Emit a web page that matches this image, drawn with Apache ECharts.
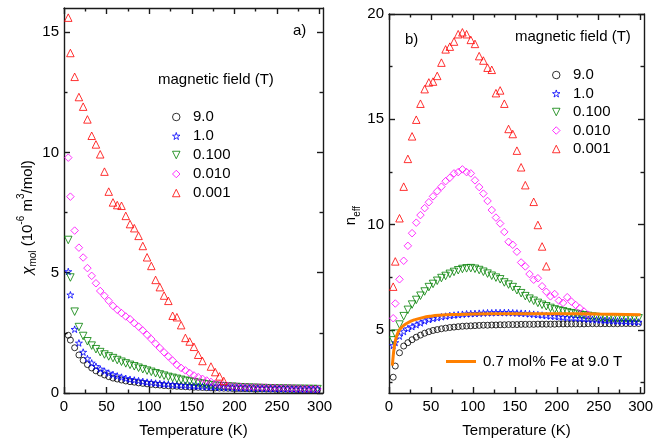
<!DOCTYPE html>
<html><head><meta charset="utf-8">
<script src="https://cdn.jsdelivr.net/npm/echarts@6/dist/echarts.min.js"></script>
<style>html,body{margin:0;padding:0;background:#fff}#c{width:662px;height:443px}</style>
</head><body><div id="c"></div>
<script>
// ---------- data ----------
const T = [5, 7.5, 12.5, 17.5, 22.5, 27.5, 32.5, 37.5, 42.5, 47.5,
  52.5, 57.5, 62.5, 67.5, 72.5, 77.5, 82.5, 87.5, 92.5, 97.5,
  102.5, 107.5, 112.5, 117.5, 122.5, 127.5, 132.5, 137.5, 142.5, 147.5,
  152.5, 157.5, 162.5, 167.5, 172.5, 177.5, 182.5, 187.5, 192.5, 197.5,
  202.5, 207.5, 212.5, 217.5, 222.5, 227.5, 232.5, 237.5, 242.5, 247.5,
  252.5, 257.5, 262.5, 267.5, 272.5, 277.5, 282.5, 287.5, 292.5, 297.5];

const fieldNames = ['9.0', '1.0', '0.100', '0.010', '0.001'];
const feName = '0.7 mol% Fe at 9.0 T';

// panel a) chi_mol (1e-6 m^3/mol)
const chi_9_0 = [2.40, 2.20, 1.88, 1.58, 1.36, 1.18, 1.04, 0.92, 0.83, 0.75,
  0.68, 0.62, 0.58, 0.54, 0.50, 0.47, 0.45, 0.42, 0.40, 0.38,
  0.36, 0.34, 0.33, 0.31, 0.30, 0.29, 0.28, 0.27, 0.26, 0.25,
  0.24, 0.235, 0.23, 0.22, 0.215, 0.21, 0.205, 0.2, 0.195, 0.19,
  0.185, 0.18, 0.178, 0.175, 0.17, 0.168, 0.165, 0.162, 0.16, 0.158,
  0.155, 0.153, 0.15, 0.148, 0.146, 0.144, 0.142, 0.14, 0.138, 0.136];
const chi_1_0 = [5.05, 4.08, 2.65, 2.08, 1.70, 1.43, 1.25, 1.11, 1.00, 0.91,
  0.83, 0.77, 0.71, 0.66, 0.61, 0.57, 0.54, 0.51, 0.48, 0.45,
  0.43, 0.41, 0.39, 0.37, 0.36, 0.34, 0.33, 0.32, 0.31, 0.30,
  0.29, 0.28, 0.27, 0.26, 0.255, 0.25, 0.24, 0.235, 0.23, 0.225,
  0.22, 0.215, 0.21, 0.205, 0.2, 0.197, 0.193, 0.19, 0.187, 0.184,
  0.18, 0.177, 0.174, 0.171, 0.168, 0.166, 0.164, 0.162, 0.16, 0.158];
const chi_0_100 = [6.36, 4.80, 3.38, 2.74, 2.37, 2.15, 1.97, 1.82, 1.70, 1.60,
  1.52, 1.45, 1.37, 1.30, 1.23, 1.17, 1.11, 1.05, 0.99, 0.93,
  0.88, 0.82, 0.77, 0.72, 0.67, 0.63, 0.59, 0.55, 0.51, 0.48,
  0.45, 0.42, 0.39, 0.36, 0.33, 0.31, 0.29, 0.28, 0.27, 0.26,
  0.25, 0.24, 0.23, 0.22, 0.215, 0.21, 0.205, 0.2, 0.195, 0.19,
  0.185, 0.18, 0.178, 0.175, 0.172, 0.17, 0.168, 0.166, 0.164, 0.162];
const chi_0_010 = [9.78, 8.16, 6.75, 6.04, 5.63, 5.19, 4.87, 4.56, 4.24, 4.04,
  3.83, 3.62, 3.46, 3.32, 3.18, 3.07, 2.90, 2.76, 2.60, 2.42,
  2.24, 2.05, 1.87, 1.69, 1.52, 1.35, 1.17, 1.04, 0.94, 0.83,
  0.73, 0.66, 0.59, 0.52, 0.46, 0.39, 0.36, 0.32, 0.30, 0.28,
  0.27, 0.26, 0.25, 0.25, 0.24, 0.24, 0.23, 0.23, 0.22, 0.22,
  0.21, 0.21, 0.2, 0.2, 0.19, 0.19, 0.18, 0.18, 0.17, 0.17];
const chi_0_001 = [15.6, 14.13, 13.14, 12.3, 11.9, 11.37, 10.69, 10.33, 9.92, 9.2,
  8.37, 7.92, 7.81, 7.78, 7.36, 7.02, 6.85, 6.53, 6.11, 5.64,
  5.28, 4.70, 4.40, 4.05, 3.83, 3.21, 3.15, 2.82, 2.29, 2.14,
  1.92, 1.59, 1.33, null, 1.10, 0.87, 0.69, 0.50];

// panel b) n_eff
const neff_9_0 = [2.75, 3.28, 3.91, 4.23, 4.39, 4.53, 4.65, 4.75, 4.84, 4.91,
  4.97, 5.01, 5.05, 5.08, 5.11, 5.13, 5.15, 5.17, 5.18, 5.19,
  5.20, 5.21, 5.22, 5.22, 5.23, 5.23, 5.24, 5.24, 5.25, 5.25,
  5.25, 5.26, 5.26, 5.26, 5.26, 5.27, 5.27, 5.27, 5.27, 5.27,
  5.28, 5.28, 5.28, 5.28, 5.28, 5.28, 5.28, 5.29, 5.29, 5.29,
  5.29, 5.29, 5.29, 5.29, 5.29, 5.30, 5.30, 5.30, 5.30, 5.30];
const neff_1_0 = [4.26, 4.40, 4.70, 4.92, 5.06, 5.15, 5.24, 5.33, 5.42, 5.49,
  5.54, 5.58, 5.62, 5.65, 5.68, 5.70, 5.72, 5.74, 5.76, 5.77,
  5.78, 5.79, 5.80, 5.81, 5.81, 5.82, 5.82, 5.82, 5.82, 5.81,
  5.80, 5.79, 5.78, 5.76, 5.74, 5.72, 5.70, 5.68, 5.66, 5.64,
  5.62, 5.60, 5.58, 5.57, 5.56, 5.55, 5.53, 5.51, 5.50, 5.48,
  5.47, 5.45, 5.44, 5.43, 5.42, 5.41, 5.40, 5.39, 5.38, 5.37];
const neff_0_100 = [4.50, 4.82, 5.25, 5.65, 5.95, 6.20, 6.42, 6.62, 6.82, 7.03,
  7.18, 7.33, 7.46, 7.56, 7.66, 7.75, 7.83, 7.89, 7.92, 7.93,
  7.90, 7.84, 7.76, 7.67, 7.57, 7.48, 7.40, 7.25, 7.15, 7.03,
  6.88, 6.74, 6.60, 6.48, 6.38, 6.28, 6.19, 6.12, 6.04, 5.97,
  5.92, 5.88, 5.83, 5.79, 5.76, 5.72, 5.69, 5.66, 5.63, 5.61,
  5.59, 5.58, 5.57, 5.56, 5.55, 5.55, 5.54, 5.54, 5.55, 5.55];
const neff_0_010 = [5.55, 6.25, 7.40, 8.28, 8.99, 9.59, 10.09, 10.45, 10.78, 11.06,
  11.34, 11.58, 11.80, 12.06, 12.22, 12.43, 12.49, 12.62, 12.49, 12.43,
  12.10, 11.78, 11.47, 11.12, 10.69, 10.33, 10.05, 9.65, 9.18, 9.04,
  8.71, 8.20, 8.01, 7.65, 7.38, 7.45, 7.07, 6.81, 6.59, 6.70,
  6.39, 6.28, 6.55, 6.34, 6.18, 6.03, 5.87, 5.72];
const neff_0_001 = [7.05, 8.25, 10.30, 11.80, 13.12, 14.19, 14.98, 15.74, 16.43, 16.75,
  16.79, 17.06, 17.69, 18.32, 18.45, 18.69, 19.04, 19.13, 19.04, 18.77,
  18.58, 18.00, 17.79, 17.45, 17.35, 16.24, 16.37, 15.74, 14.54, 14.30,
  13.51, 12.72, 11.87, null, 11.08, 9.98, 8.96, 8.02];

const T_fe = [4, 5, 6, 7, 8, 10, 12, 15, 20, 25, 30, 40, 50, 60, 80, 100, 150, 200, 250, 300];
const neff_fe = [3.3, 3.75, 4.1, 4.35, 4.55, 4.8, 4.97, 5.12, 5.28, 5.39, 5.47, 5.58, 5.65, 5.69, 5.73, 5.75, 5.76, 5.76, 5.75, 5.72];

const xMajor = [0, 50, 100, 150, 200, 250, 300];
const xMinor = [25, 75, 125, 175, 225, 275];
const yMajorA = [0, 5, 10, 15];
const yMinorA = [2.5, 7.5, 12.5];
const yMajorB = [5, 10, 15, 20];
const yMinorB = [2.5, 7.5, 12.5, 17.5];

// ---------- chart ----------
const FONT = '"Liberation Sans", Arial, Helvetica, sans-serif';
const AX = {color: '#1a1a1a', width: 1.4};
const STAR = 'path://M50,0 L61,35 L98,35 L68,57 L79,91 L50,70 L21,91 L32,57 L2,35 L39,35 Z';
const DOWN_TRI = 'path://M0,0 L10,0 L5,10 Z';
const styles = {
  '9.0':   {symbol: 'circle', symbolSize: 6, color: '#000000'},
  '1.0':   {symbol: STAR, symbolSize: 7, color: '#0000ff'},
  '0.100': {symbol: DOWN_TRI, symbolSize: 7.5, color: '#008000'},
  '0.010': {symbol: 'diamond', symbolSize: 7.5, color: '#ff00ff'},
  '0.001': {symbol: 'triangle', symbolSize: 7.5, color: '#ff0000'}
};

function axisSet(dim, grid, min, max, major, minor, main) {
  const pos = dim === 'x' ? ['bottom', 'top'] : ['left', 'right'];
  const out = [];
  pos.forEach((p, k) => {
    out.push(Object.assign({
      type: 'value', gridIndex: grid, position: p, min: min, max: max,
      axisLine: {show: true, onZero: false, lineStyle: AX},
      axisTick: {show: true, inside: true, length: 6, customValues: major, lineStyle: AX},
      axisLabel: k === 0 ? {show: true, customValues: major, margin: dim === 'x' ? 6 : 5,
        fontSize: 15, fontFamily: FONT, color: '#000'} : {show: false},
      splitLine: {show: false}
    }, k === 0 ? main : {}));
    out.push({
      type: 'value', gridIndex: grid, position: p, min: min, max: max,
      axisLine: {show: false, onZero: false},
      axisTick: {show: true, inside: true, length: 3.5, customValues: minor, lineStyle: AX},
      axisLabel: {show: false}, splitLine: {show: false}
    });
  });
  return out;
}

const xName = {name: 'Temperature (K)', nameLocation: 'middle', nameGap: 30,
  nameTextStyle: {fontSize: 15, fontFamily: FONT, color: '#000'}};
const richBase = {
  m: {fontSize: 15, fontFamily: FONT, color: '#000', lineHeight: 22, verticalAlign: 'middle'},
  chi: {fontSize: 15, fontFamily: FONT, fontStyle: 'italic', color: '#000', lineHeight: 22, verticalAlign: 'middle'},
  sub: {fontSize: 10, fontFamily: FONT, color: '#000', lineHeight: 12, verticalAlign: 'bottom'},
  sup: {fontSize: 10, fontFamily: FONT, color: '#000', lineHeight: 12, verticalAlign: 'top'}
};
const yNameA = {name: '{chi|χ}{sub|mol}{m| (10}{sup|-6}{m| m}{sup|3}{m|/mol)}', nameLocation: 'middle', nameGap: 24,
  nameTextStyle: {fontSize: 15, fontFamily: FONT, color: '#000', rich: richBase, padding: [0, 34, 0, 0]}};
const yNameB = {name: '{m|n}{sub|eff}', nameLocation: 'middle', nameGap: 27,
  nameTextStyle: {fontSize: 15, fontFamily: FONT, color: '#000', rich: richBase, padding: [0, 24, 0, 0]}};

function pts(xs, ys) {
  const out = [];
  for (let i = 0; i < ys.length; i++) if (ys[i] != null) out.push([xs[i], ys[i]]);
  return out;
}
function scatter(name, grid, ys) {
  const s = styles[name];
  return {
    type: 'scatter', name: name, xAxisIndex: grid * 4, yAxisIndex: grid * 4,
    symbol: s.symbol, symbolSize: s.symbolSize, symbolKeepAspect: true,
    itemStyle: {color: 'rgba(0,0,0,0)', borderColor: s.color, borderWidth: 1},
    emphasis: {disabled: true},
    data: pts(T, ys)
  };
}

const legText = {fontSize: 15, fontFamily: FONT, color: '#000', padding: [0, 0, 0, 8]};
const titleStyle = {fontSize: 15, fontWeight: 'normal', fontFamily: FONT, color: '#000'};
const legendItems = fieldNames.map(n => ({name: n, icon: styles[n].symbol}));

const option = {
  animation: false,
  backgroundColor: '#fff',
  grid: [
    {left: 64, top: 8, width: 259, height: 385},
    {left: 389, top: 14, width: 255, height: 380}
  ],
  xAxis: [].concat(
    axisSet('x', 0, 0, 304, xMajor, xMinor, xName),
    axisSet('x', 1, 0, 304, xMajor, xMinor, xName)
  ),
  yAxis: [].concat(
    axisSet('y', 0, 0, 16, yMajorA, yMinorA, yNameA),
    axisSet('y', 1, 2, 20, yMajorB, yMinorB, yNameB)
  ),
  title: [
    {text: 'magnetic field (T)', left: 158, top: 72, padding: 0, textStyle: titleStyle},
    {text: 'a)', left: 293, top: 23, padding: 0, textStyle: titleStyle},
    {text: 'magnetic field (T)', left: 515, top: 29, padding: 0, textStyle: titleStyle},
    {text: 'b)', left: 405, top: 32, padding: 0, textStyle: titleStyle}
  ],
  legend: [
    {data: legendItems, orient: 'vertical', left: 172, top: 109.5, padding: 0,
     itemWidth: 7.5, itemHeight: 7.5, itemGap: 4, selectedMode: false,
     itemStyle: {borderWidth: 1}, textStyle: legText},
    {data: legendItems, orient: 'vertical', left: 552, top: 67.5, padding: 0,
     itemWidth: 7.5, itemHeight: 7.5, itemGap: 3.5, selectedMode: false,
     itemStyle: {borderWidth: 1}, textStyle: legText},
    {data: [{name: feName, icon: 'rect'}], orient: 'vertical', left: 446, top: 354, padding: 0,
     itemWidth: 30, itemHeight: 3, selectedMode: false,
     itemStyle: {color: '#ff8000', borderWidth: 0},
     textStyle: {fontSize: 15, fontFamily: FONT, color: '#000', padding: [0, 0, 0, 2]}}
  ],
  series: [
    scatter('9.0', 0, chi_9_0),
    scatter('1.0', 0, chi_1_0),
    scatter('0.100', 0, chi_0_100),
    scatter('0.010', 0, chi_0_010),
    scatter('0.001', 0, chi_0_001),
    scatter('9.0', 1, neff_9_0),
    scatter('1.0', 1, neff_1_0),
    scatter('0.100', 1, neff_0_100),
    scatter('0.010', 1, neff_0_010),
    scatter('0.001', 1, neff_0_001),
    {type: 'line', name: feName, xAxisIndex: 4, yAxisIndex: 4, smooth: true,
     symbol: 'none', showSymbol: false, emphasis: {disabled: true},
     lineStyle: {color: '#ff8000', width: 3}, itemStyle: {color: '#ff8000'},
     data: pts(T_fe, neff_fe)}
  ]
};

const chart = echarts.init(document.getElementById('c'), null, {renderer: 'canvas'});
chart.setOption(option);
</script>
</body></html>
